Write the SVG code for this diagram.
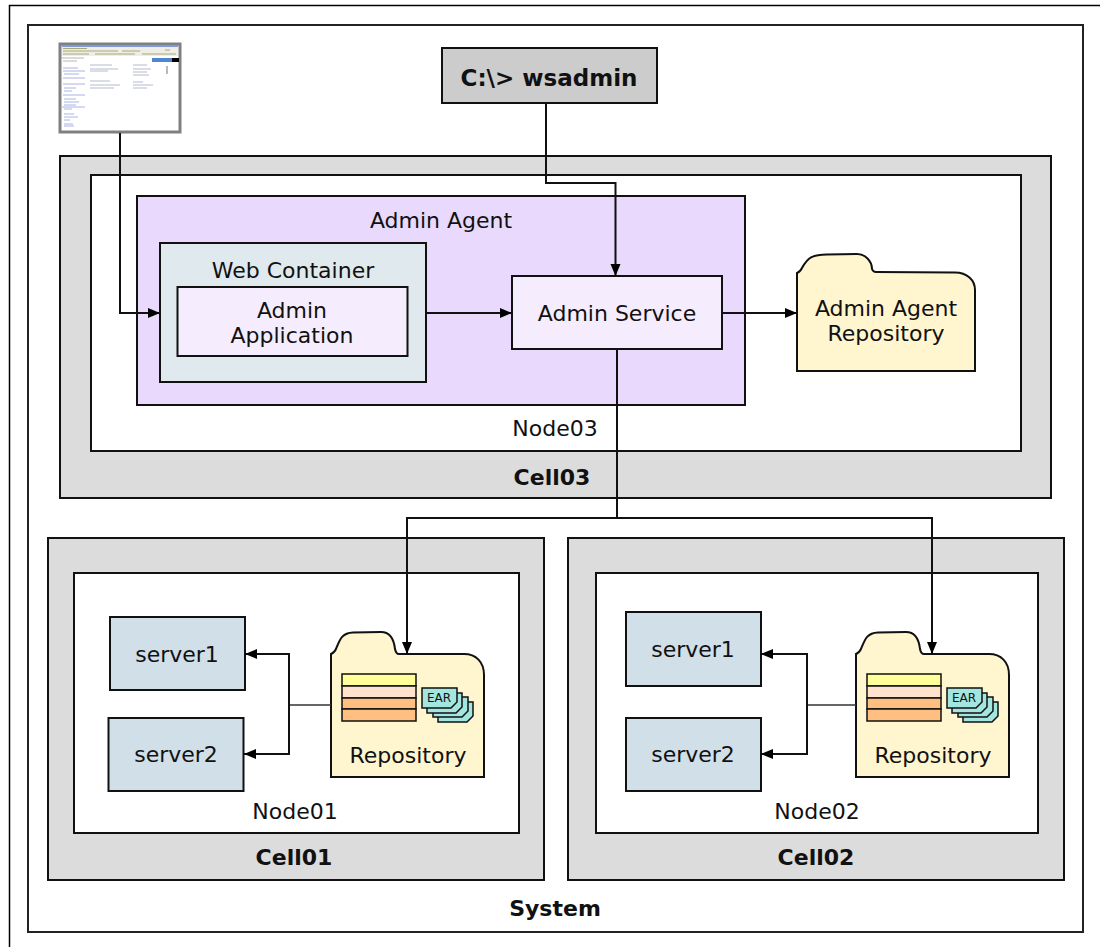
<svg xmlns="http://www.w3.org/2000/svg" width="1100" height="947" viewBox="0 0 1100 947">
<style>
text{font-family:"DejaVu Sans",Verdana,sans-serif;font-size:22px;fill:#111;text-anchor:middle}
.b{font-weight:bold}
.box{stroke:#111;stroke-width:2}
.cell{fill:#dcdcdc}
.white{fill:#fff}
.srv{fill:#d0dfe8}
.fold{fill:#fff5cf;stroke:#111;stroke-width:2}
.conn{fill:none;stroke:#111;stroke-width:2}
.thin{fill:none;stroke:#333;stroke-width:1.5}
.st{stroke:#111;stroke-width:1.5}
.ear{fill:#a3e6e0;stroke:#111;stroke-width:1.5}
</style>
<defs>
<marker id="arr" markerUnits="userSpaceOnUse" markerWidth="13" markerHeight="12" refX="12" refY="6" orient="auto"><path d="M0 1L12 6L0 11Z" fill="#000"/></marker>
<path id="fp" d="M0 117V19Q3 18 5 14C11 3 16 .5 30 .5L60 0C68 0 75 7 75 15Q76 18 79 18L158 18.500C170 18.500 178 26 178 36V117Z"/>
<path id="earcard" d="M0 0H35V14L29 20H0Z" class="ear"/>
<g id="repo">
<path class="fold" d="M0 145V22Q3 21 5 17C9 7 11 1 22 .500L50 0C59 0 63 8 64 17Q65 22 68 22L133 22C145 22 153 30 153 43V145Z"/>
<rect x="11" y="42" width="74" height="12" fill="#ffff99" class="st"/>
<rect x="11" y="54" width="74" height="12" fill="#ffe3cf" class="st"/>
<rect x="11" y="66" width="74" height="11" fill="#ffbf80" class="st"/>
<rect x="11" y="77" width="74" height="12" fill="#ffbf80" class="st"/>
<use href="#earcard" x="107" y="70"/><use href="#earcard" x="102" y="65"/><use href="#earcard" x="96" y="61"/><use href="#earcard" x="91" y="56"/>
<text x="108" y="70" style="font-size:12px">EAR</text>
<text x="77" y="131">Repository</text>
</g>
</defs>

<g id="frame">
<path d="M1100 5.500H9.500V947" fill="none" stroke="#000" stroke-width="1.500"/>
<rect x="28" y="25" width="1055" height="907" fill="#fff" stroke="#222" stroke-width="2"/>
</g>

<g id="cell03"><rect class="box cell" x="60" y="156" width="991" height="342"/><text class="b" x="552" y="485">Cell03</text></g>
<g id="node03"><rect class="box white" x="91" y="175" width="930" height="276"/><text x="555" y="436">Node03</text></g>
<g id="cell01"><rect class="box cell" x="48" y="538" width="496" height="342"/><text class="b" x="294" y="865">Cell01</text></g>
<g id="node01"><rect class="box white" x="74" y="573" width="445" height="260"/><text x="295" y="819">Node01</text></g>
<g id="cell02"><rect class="box cell" x="568" y="538" width="496" height="342"/><text class="b" x="816" y="865">Cell02</text></g>
<g id="node02"><rect class="box white" x="596" y="573" width="442" height="260"/><text x="817" y="819">Node02</text></g>
<g id="system"><text class="b" x="555" y="916">System</text></g>

<g id="browser">
<rect x="60" y="44" width="120" height="88" fill="#fff" stroke="#808080" stroke-width="3"/>
<rect x="62" y="45" width="116" height="2" fill="#7f9ad8"/>
<rect x="62" y="47" width="116" height="9" fill="#eeeee6"/>
<path d="M63 48.500h24M63 51h55M122 51h18M165 50h5M63 54h26M95 54h40M142 54h34" stroke="#a8a878" stroke-width="1"/>
<rect x="152" y="58" width="20" height="4" fill="#4f86cf"/>
<rect x="172" y="58" width="7" height="4" fill="#000"/>
<path d="M62 58h22M63 61h14" stroke="#b5b5b5" stroke-width="1"/>
<path d="M63 68h15M63 71h22M64 74h15M63 78h22M63 84h22M64 88h12M64 91h8M63 95h22M64 99h12M64 102h15M64 105h12M64 109h8M62 107h23M64 114h10M64 117h14M64 120h6M64 124h9M64 126h10" stroke="#a9b4e4" stroke-width="1"/>
<path d="M90 65h22M90 69h28M90 71h18M90 81h20M90 85h30M90 88h24M133 65h14M133 69h18M133 72h14M133 75h16M133 82h10M133 85h20M133 88h14" stroke="#b5bad0" stroke-width="1"/>
<path d="M167 66v8" stroke="#777" stroke-width="1"/>
</g>

<g id="wsadmin"><rect class="box" x="442" y="48" width="215" height="55" fill="#cccccc"/><text class="b" x="549" y="86" style="font-size:23px">C:\&gt; wsadmin</text></g>
<g id="admin-agent"><rect class="box" x="137" y="196" width="608" height="209" fill="#e9d9fc"/><text x="441" y="228">Admin Agent</text></g>
<g id="web-container"><rect class="box" x="160" y="243" width="266" height="139" fill="#dfe9ee"/><text x="293" y="278">Web Container</text></g>
<g id="admin-application"><rect class="box" x="177.500" y="287" width="230" height="69" fill="#f5edfe"/><text x="292" y="318">Admin</text><text x="292" y="343">Application</text></g>
<g id="admin-service"><rect class="box" x="512" y="276" width="210" height="73" fill="#f5edfe"/><text x="617" y="321">Admin Service</text></g>
<g id="admin-agent-repository" transform="translate(797 254)"><use href="#fp" class="fold"/><text x="89" y="62">Admin Agent</text><text x="89" y="87">Repository</text></g>

<g id="server1-a"><rect class="box srv" x="110" y="617" width="135" height="73"/><text x="177" y="662">server1</text></g>
<g id="server2-a"><rect class="box srv" x="108.500" y="718" width="135" height="73"/><text x="176" y="762">server2</text></g>
<g id="server1-b"><rect class="box srv" x="626" y="612" width="135" height="74"/><text x="693" y="657">server1</text></g>
<g id="server2-b"><rect class="box srv" x="626" y="718" width="135" height="73"/><text x="693" y="762">server2</text></g>
<g id="repository-a" transform="translate(331 632)"><use href="#repo"/></g>
<g id="repository-b" transform="translate(856 632)"><use href="#repo"/></g>

<g id="connectors">
<path class="conn" d="M120 133V313H160" marker-end="url(#arr)"/>
<path class="conn" d="M546 103V183H615.500V276" marker-end="url(#arr)"/>
<path class="conn" d="M426 313H512" marker-end="url(#arr)"/>
<path class="conn" d="M722 313H797" marker-end="url(#arr)"/>
<path class="conn" d="M617 349V518"/>
<path class="conn" d="M617 518H407V654" marker-end="url(#arr)"/>
<path class="conn" d="M617 518H932V654" marker-end="url(#arr)"/>
<path class="thin" d="M331 705H289"/>
<path class="conn" d="M245 654H289V754H244" marker-end="url(#arr)"/>
<path class="thin" d="M856 705H807"/>
<path class="conn" d="M761 654H807V754H761" marker-end="url(#arr)"/>
<path d="M245 654L257 649V659Z M761 654L773 649V659Z" fill="#000"/>
</g>
</svg>
